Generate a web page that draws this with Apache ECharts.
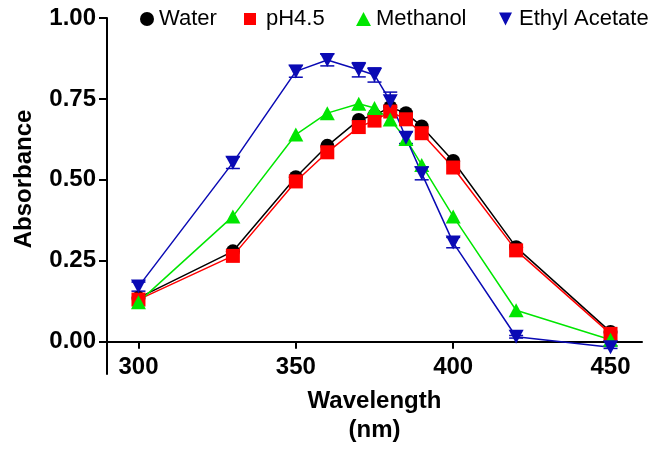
<!DOCTYPE html>
<html>
<head>
<meta charset="utf-8">
<script src="https://cdn.jsdelivr.net/npm/echarts@6/dist/echarts.min.js"></script>
<style>
html,body{margin:0;padding:0;background:#fff;}
#chart{width:654px;height:453px;}
</style>
</head>
<body>
<div id="chart"></div>
<script>
// ---- data ----
var wavelength = [300, 330, 350, 360, 370, 375, 380, 385, 390, 400, 420, 450];
var water      = [0.135, 0.279, 0.508, 0.605, 0.685, 0.700, 0.724, 0.706, 0.665, 0.558, 0.292, 0.030];
var ph45       = [0.130, 0.265, 0.495, 0.585, 0.663, 0.683, 0.711, 0.687, 0.644, 0.538, 0.282, 0.024];
var methanol   = [0.122, 0.387, 0.640, 0.706, 0.735, 0.722, 0.686, 0.626, 0.546, 0.387, 0.097, 0.006];
var ethyl      = [0.170, 0.553, 0.835, 0.870, 0.840, 0.824, 0.743, 0.630, 0.520, 0.306, 0.015, -0.017];
var ethylErr   = [0.014, 0.018, 0.018, 0.018, 0.022, 0.022, 0.028, 0.018, 0.020, 0.016, 0.004, 0.004];
var xTicks = [300, 350, 400, 450];
var yTicks = [0, 0.25, 0.5, 0.75, 1.0];
var seriesNames = ['Water', 'pH4.5', 'Methanol', 'Ethyl Acetate'];

var FONT = 'Liberation Sans, Arial, sans-serif';
function pairs(ys) { return wavelength.map(function (w, i) { return [w, ys[i]]; }); }

var W = 654, H = 453;
var GRID = { left: 107, right: 12, top: 18, bottom: 79 };
var Y_MIN = -0.1, Y_MAX = 1.0;
// x axis crosses the y axis at 0: shift it up from the grid bottom by the scale distance
var plotH = H - GRID.top - GRID.bottom;
var xAxisOffset = -plotH * (0 - Y_MIN) / (Y_MAX - Y_MIN);

var chart = echarts.init(document.getElementById('chart'));

function legendFor(name, left, icon, w, h, padLeft) {
  return {
    data: [{ name: name, icon: icon }],
    left: left, top: 8,
    itemWidth: w, itemHeight: h,
    padding: 0,
    textStyle: { fontSize: 22, color: '#000', fontFamily: FONT, padding: [0, 0, 0, padLeft] }
  };
}

var option = {
  backgroundColor: '#fff',
  animation: false,
  grid: { left: GRID.left, right: GRID.right, top: GRID.top, bottom: GRID.bottom, containLabel: false, outerBoundsMode: 'none' },
  legend: [
    legendFor('Water', 140, 'circle', 14, 14, 0),
    legendFor('pH4.5', 244, 'rect', 12, 12, 5),
    legendFor('Methanol', 356, 'triangle', 15, 14, 0),
    legendFor('Ethyl Acetate', 499, 'path://M0,0L10,0L5,10Z', 13, 13, 2)
  ],
  xAxis: {
    type: 'value', min: 290, max: 460,
    offset: xAxisOffset,
    name: 'Wavelength\n(nm)', nameLocation: 'middle', nameGap: 45, nameMoveOverlap: false,
    nameTextStyle: { fontSize: 24, fontWeight: 'bold', color: '#000', fontFamily: FONT, lineHeight: 29 },
    axisLine: { show: true, onZero: false, lineStyle: { color: '#000', width: 2 } },
    axisTick: { show: true, customValues: xTicks, length: 7, lineStyle: { color: '#000', width: 2 } },
    axisLabel: { customValues: xTicks, margin: 14, fontSize: 24, fontWeight: 'bold', color: '#000', fontFamily: FONT },
    splitLine: { show: false }
  },
  yAxis: {
    type: 'value', min: Y_MIN, max: Y_MAX,
    axisLine: { show: true, onZero: false, lineStyle: { color: '#000', width: 2 } },
    axisTick: { show: true, customValues: yTicks, length: 8, lineStyle: { color: '#000', width: 2 } },
    axisLabel: { customValues: yTicks, margin: 11, fontSize: 24, fontWeight: 'bold', color: '#000', fontFamily: FONT,
      formatter: function (v) { return v.toFixed(2); } },
    splitLine: { show: false }
  },
  graphic: [{
    type: 'text', x: 24, y: 179, rotation: Math.PI / 2,
    style: { text: 'Absorbance', fontSize: 24, fontWeight: 'bold', fill: '#000', fontFamily: FONT,
      align: 'center', verticalAlign: 'middle' }
  }],
  series: [
    { name: 'Water', type: 'line', data: pairs(water), symbol: 'circle', symbolSize: 14,
      itemStyle: { color: '#000' }, lineStyle: { color: '#000', width: 1.5 } },
    { name: 'pH4.5', type: 'line', data: pairs(ph45), symbol: 'rect', symbolSize: 14,
      itemStyle: { color: '#ff0000' }, lineStyle: { color: '#ff0000', width: 1.5 } },
    { name: 'Methanol', type: 'line', data: pairs(methanol), symbol: 'triangle', symbolSize: [15, 14],
      itemStyle: { color: '#00e600' }, lineStyle: { color: '#00e600', width: 1.5 } },
    { name: 'Ethyl Acetate', type: 'line', data: pairs(ethyl), symbol: 'triangle', symbolRotate: 180, symbolSize: [15, 14],
      itemStyle: { color: '#0a0ab4' }, lineStyle: { color: '#0a0ab4', width: 1.5 } },
    { name: 'Ethyl Acetate err', type: 'custom',
      data: wavelength.map(function (w, i) { return [w, ethyl[i], ethylErr[i]]; }),
      renderItem: function (params, api) {
        var x = api.value(0), y = api.value(1), e = api.value(2);
        var hi = api.coord([x, y + e]), lo = api.coord([x, y - e]);
        var hw = 7;
        var st = { stroke: '#0a0ab4', lineWidth: 1.5 };
        return { type: 'group', children: [
          { type: 'line', shape: { x1: hi[0], y1: hi[1], x2: lo[0], y2: lo[1] }, style: st },
          { type: 'line', shape: { x1: hi[0] - hw, y1: hi[1], x2: hi[0] + hw, y2: hi[1] }, style: st },
          { type: 'line', shape: { x1: lo[0] - hw, y1: lo[1], x2: lo[0] + hw, y2: lo[1] }, style: st }
        ]};
      },
      z: 3 }
  ]
};
chart.setOption(option);
</script>
</body>
</html>
